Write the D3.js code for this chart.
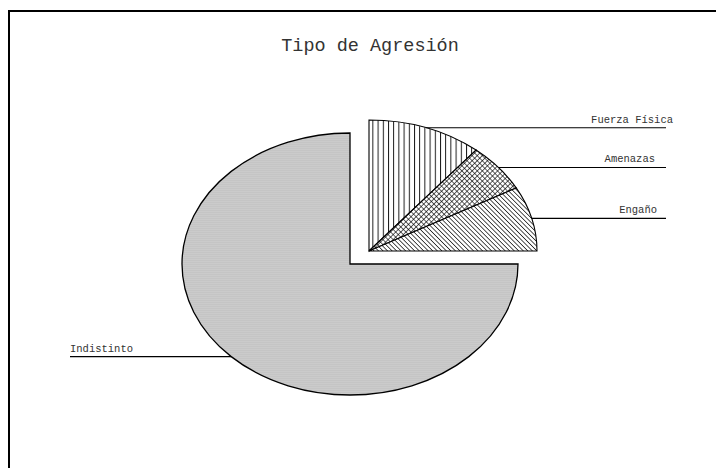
<!DOCTYPE html>
<html><head><meta charset="utf-8">
<script src="https://cdn.jsdelivr.net/npm/d3@7"></script>
<style>html,body{margin:0;padding:0;background:#fff;overflow:hidden}svg{display:block}</style>
</head><body>
<script>
// ---- data ----
const categories = ["Indistinto", "Fuerza Física", "Amenazas", "Engaño"];
const values = [75, 11, 6, 8];
const title = "Tipo de Agresión";

// ---- layout ----
const W = 716, H = 468;
const cx = 350, cy = 264, rx = 168, ry = 131;
const explode = {dx: 19, dy: -13};
const rightLineEnd = 666, leftLineEnd = 70;
const labelAdjust = [0, 7, -11, -9];
const fills = ["url(#gray)", "url(#vlines)", "url(#cross)", "url(#diag)"];

const svg = d3.select("body").append("svg").attr("width", W).attr("height", H);
const defs = svg.append("defs");

// patterns
const pg = defs.append("pattern").attr("id", "gray").attr("patternUnits", "userSpaceOnUse")
  .attr("width", 4).attr("height", 2);
pg.append("rect").attr("width", 4).attr("height", 2).attr("fill", "#cbcbcb");
pg.append("rect").attr("width", 4).attr("height", 1).attr("fill", "#c5c5c5");

const pv = defs.append("pattern").attr("id", "vlines").attr("patternUnits", "userSpaceOnUse")
  .attr("width", 5.2).attr("height", 10).attr("x", cx + explode.dx);
pv.append("rect").attr("width", 5.2).attr("height", 10).attr("fill", "#fff");
pv.append("line").attr("x1", 0.5).attr("x2", 0.5).attr("y1", 0).attr("y2", 10)
  .attr("stroke", "#000").attr("stroke-width", 0.9);

const pc = defs.append("pattern").attr("id", "cross").attr("patternUnits", "userSpaceOnUse")
  .attr("width", 3.6).attr("height", 3.6).attr("patternTransform", "rotate(45)");
pc.append("rect").attr("width", 3.6).attr("height", 3.6).attr("fill", "#fff");
pc.append("line").attr("x1", 0).attr("x2", 3.6).attr("y1", 0.35).attr("y2", 0.35).attr("stroke", "#000").attr("stroke-width", 0.7);
pc.append("line").attr("x1", 0.35).attr("x2", 0.35).attr("y1", 0).attr("y2", 3.6).attr("stroke", "#000").attr("stroke-width", 0.7);

const pd = defs.append("pattern").attr("id", "diag").attr("patternUnits", "userSpaceOnUse")
  .attr("width", 3.2).attr("height", 10).attr("patternTransform", "rotate(-45)");
pd.append("rect").attr("width", 3.2).attr("height", 10).attr("fill", "#fff");
pd.append("line").attr("x1", 0.4).attr("x2", 0.4).attr("y1", 0).attr("y2", 10)
  .attr("stroke", "#000").attr("stroke-width", 0.75);

// frame
svg.append("rect").attr("x", 9).attr("y", 11).attr("width", 900).attr("height", 700)
  .attr("fill", "none").attr("stroke", "#000").attr("stroke-width", 2);

// title
svg.append("text").attr("x", 370).attr("y", 51).attr("text-anchor", "middle")
  .attr("font-family", "Liberation Mono, Courier New, monospace").attr("font-size", 18.5)
  .attr("fill", "#333").text(title);

// scales mapping unit circle to ellipse
const sx = d3.scaleLinear().domain([-1, 1]).range([cx - rx, cx + rx]);
const sy = d3.scaleLinear().domain([-1, 1]).range([cy - ry, cy + ry]);

const pie = d3.pie().sort(null).value(d => d)
  .startAngle(Math.PI / 2).endAngle(Math.PI / 2 + 2 * Math.PI);
const arcs = pie(values);

function slicePath(d) {
  const a0 = d.startAngle, a1 = d.endAngle;
  const p0 = [sx(Math.sin(a0)), sy(-Math.cos(a0))];
  const p1 = [sx(Math.sin(a1)), sy(-Math.cos(a1))];
  const large = (a1 - a0) > Math.PI ? 1 : 0;
  return `M${cx},${cy}L${p0[0]},${p0[1]}A${rx},${ry} 0 ${large} 1 ${p1[0]},${p1[1]}Z`;
}
const off = i => i === 0 ? {dx: 0, dy: 0} : explode;

svg.append("g").selectAll("path").data(arcs).join("path")
  .attr("d", slicePath)
  .attr("transform", (d, i) => `translate(${off(i).dx},${off(i).dy})`)
  .attr("fill", (d, i) => fills[i])
  .attr("stroke", "#000").attr("stroke-width", (d, i) => i === 0 ? 1.3 : 1.1)
  .attr("stroke-linejoin", "miter");

// leader lines and labels
const lg = svg.append("g");
arcs.forEach((d, i) => {
  const m = (d.startAngle + d.endAngle) / 2;
  const px = sx(Math.sin(m)) + off(i).dx, py = sy(-Math.cos(m)) + off(i).dy;
  const right = Math.sin(m) > 0;
  const endX = right ? rightLineEnd : leftLineEnd;
  lg.append("line").attr("x1", px).attr("y1", py).attr("x2", endX).attr("y2", py)
    .attr("stroke", "#000").attr("stroke-width", 1.2);
  lg.append("text")
    .attr("x", endX + labelAdjust[i]).attr("y", py - 5)
    .attr("text-anchor", right ? "end" : "start")
    .attr("font-family", "Liberation Mono, Courier New, monospace").attr("font-size", 10.5)
    .attr("fill", "#333").text(categories[i]);
});
</script>
</body></html>
